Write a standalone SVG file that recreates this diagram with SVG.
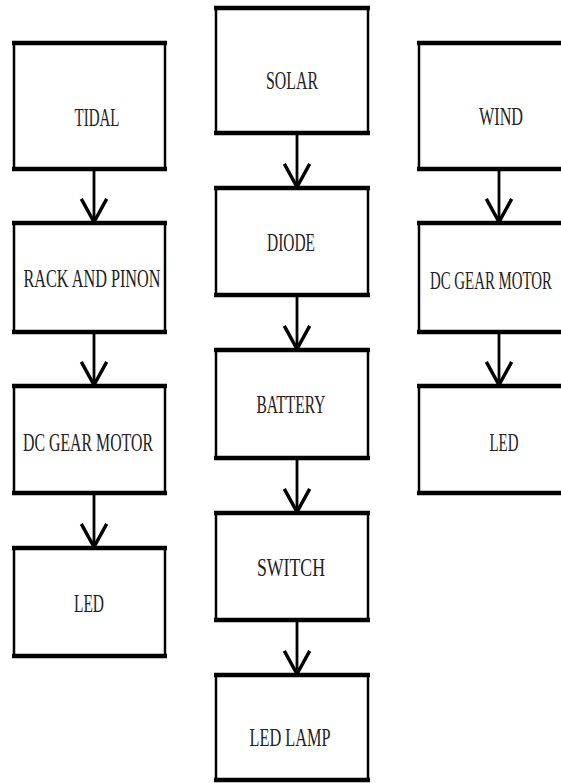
<svg xmlns="http://www.w3.org/2000/svg" width="561" height="783" viewBox="0 0 561 783">
<style>
.box rect{fill:#fff;stroke:#000;stroke-width:2.5}
.box line{stroke:#000;stroke-width:4.5}
.box text{font-family:"Liberation Serif","Times New Roman",serif;font-size:26px;fill:#222;text-anchor:middle}
.conn line{stroke:#000;stroke-width:2.8;fill:none}
</style>
<defs>
<marker id="arr" markerUnits="userSpaceOnUse" markerWidth="30" markerHeight="30" orient="auto" refX="0" refY="0" viewBox="-22 -13 24 26" overflow="visible">
<path d="M-20,-11 L0,0 L-20,11" fill="none" stroke="#000" stroke-width="3"/>
</marker>
</defs>
<rect width="561" height="783" fill="#fff"/>
<g class="conn">
<line x1="94" y1="169" x2="94" y2="222" marker-end="url(#arr)"/>
<line x1="94" y1="332" x2="94" y2="385" marker-end="url(#arr)"/>
<line x1="94" y1="493" x2="94" y2="547" marker-end="url(#arr)"/>
<line x1="297" y1="133" x2="297" y2="187" marker-end="url(#arr)"/>
<line x1="297" y1="295" x2="297" y2="349" marker-end="url(#arr)"/>
<line x1="297" y1="458" x2="297" y2="512" marker-end="url(#arr)"/>
<line x1="297" y1="620" x2="297" y2="674" marker-end="url(#arr)"/>
<line x1="499" y1="169" x2="499" y2="222" marker-end="url(#arr)"/>
<line x1="499" y1="332" x2="499" y2="385" marker-end="url(#arr)"/>
</g>
<g id="tidal" class="box"><rect x="14" y="43" width="151" height="126"/><line x1="12" y1="43" x2="167" y2="43"/><line x1="12" y1="169" x2="167" y2="169"/><text x="97" y="126" textLength="45" lengthAdjust="spacingAndGlyphs">TIDAL</text></g>
<g id="rack" class="box"><rect x="14" y="223" width="151" height="109"/><line x1="12" y1="223" x2="167" y2="223"/><line x1="12" y1="332" x2="167" y2="332"/><text x="92" y="287" textLength="137" lengthAdjust="spacingAndGlyphs">RACK AND PINON</text></g>
<g id="dcgm-left" class="box"><rect x="14" y="386" width="151" height="107"/><line x1="12" y1="386" x2="167" y2="386"/><line x1="12" y1="493" x2="167" y2="493"/><text x="88" y="451" textLength="130" lengthAdjust="spacingAndGlyphs">DC GEAR MOTOR</text></g>
<g id="led-left" class="box"><rect x="14" y="548" width="151" height="108"/><line x1="12" y1="548" x2="167" y2="548"/><line x1="12" y1="656" x2="167" y2="656"/><text x="89" y="612" textLength="30" lengthAdjust="spacingAndGlyphs">LED</text></g>
<g id="solar" class="box"><rect x="216" y="8" width="152" height="125"/><line x1="214" y1="8" x2="370" y2="8"/><line x1="214" y1="133" x2="370" y2="133"/><text x="292" y="89" textLength="52" lengthAdjust="spacingAndGlyphs">SOLAR</text></g>
<g id="diode" class="box"><rect x="216" y="188" width="152" height="107"/><line x1="214" y1="188" x2="370" y2="188"/><line x1="214" y1="295" x2="370" y2="295"/><text x="291" y="251" textLength="48" lengthAdjust="spacingAndGlyphs">DIODE</text></g>
<g id="battery" class="box"><rect x="216" y="350" width="152" height="108"/><line x1="214" y1="350" x2="370" y2="350"/><line x1="214" y1="458" x2="370" y2="458"/><text x="291" y="413" textLength="69" lengthAdjust="spacingAndGlyphs">BATTERY</text></g>
<g id="switch" class="box"><rect x="216" y="513" width="152" height="107"/><line x1="214" y1="513" x2="370" y2="513"/><line x1="214" y1="620" x2="370" y2="620"/><text x="291" y="576" textLength="68" lengthAdjust="spacingAndGlyphs">SWITCH</text></g>
<g id="ledlamp" class="box"><rect x="216" y="675" width="152" height="105"/><line x1="214" y1="675" x2="370" y2="675"/><line x1="214" y1="780" x2="370" y2="780"/><text x="290" y="746" textLength="81" lengthAdjust="spacingAndGlyphs">LED LAMP</text></g>
<g id="wind" class="box"><rect x="419" y="43" width="162" height="126"/><line x1="417" y1="43" x2="583" y2="43"/><line x1="417" y1="169" x2="583" y2="169"/><text x="501" y="125" textLength="44" lengthAdjust="spacingAndGlyphs">WIND</text></g>
<g id="dcgm-right" class="box"><rect x="419" y="223" width="162" height="109"/><line x1="417" y1="223" x2="583" y2="223"/><line x1="417" y1="332" x2="583" y2="332"/><text x="491" y="289" textLength="122" lengthAdjust="spacingAndGlyphs">DC GEAR MOTOR</text></g>
<g id="led-right" class="box"><rect x="419" y="386" width="162" height="107"/><line x1="417" y1="386" x2="583" y2="386"/><line x1="417" y1="493" x2="583" y2="493"/><text x="504" y="451" textLength="29" lengthAdjust="spacingAndGlyphs">LED</text></g>
</svg>
